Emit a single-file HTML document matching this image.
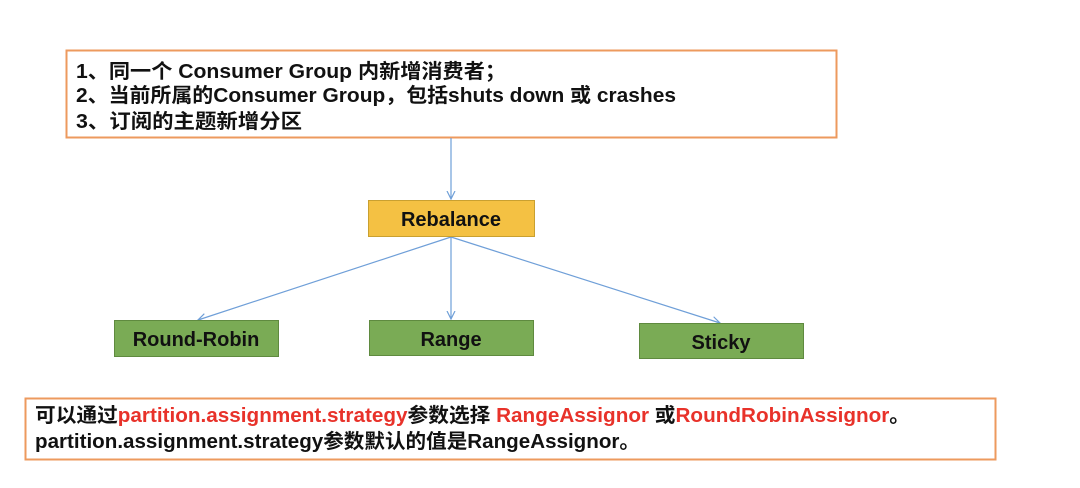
<!DOCTYPE html>
<html><head><meta charset="utf-8"><style>
html,body{margin:0;padding:0;background:#fff;}
svg{display:block;}
text{font-family:"Liberation Sans","Noto Sans CJK SC",sans-serif;font-weight:bold;}
</style></head><body>
<svg width="1080" height="488" viewBox="0 0 1080 488" xmlns="http://www.w3.org/2000/svg">
<defs>
<marker id="a" markerWidth="10" markerHeight="10" refX="8" refY="5" orient="auto" markerUnits="userSpaceOnUse">
<path d="M0,1 L8,5 L0,9" fill="none" stroke="#6f9fd8" stroke-width="1.2"/>
</marker>
</defs>
<rect x="66.5" y="50.5" width="770" height="87" fill="#fff" stroke="#ed9a5e" stroke-width="2"/>
<text x="76" y="78" font-size="20" fill="#111" textLength="430" lengthAdjust="spacingAndGlyphs">1、同一个 Consumer Group 内新增消费者；</text>
<text x="76" y="102" font-size="20" fill="#111" textLength="600" lengthAdjust="spacingAndGlyphs">2、当前所属的Consumer Group，包括shuts down 或 crashes</text>
<text x="76" y="128" font-size="20" fill="#111" textLength="226" lengthAdjust="spacingAndGlyphs">3、订阅的主题新增分区</text>

<line x1="451" y1="138" x2="451" y2="199" stroke="#6f9fd8" stroke-width="1.2" marker-end="url(#a)"/>
<line x1="451" y1="237" x2="198" y2="320" stroke="#6f9fd8" stroke-width="1.2" marker-end="url(#a)"/>
<line x1="451" y1="237" x2="451" y2="319" stroke="#6f9fd8" stroke-width="1.2" marker-end="url(#a)"/>
<line x1="451" y1="237" x2="720" y2="323" stroke="#6f9fd8" stroke-width="1.2" marker-end="url(#a)"/>

<rect x="368.5" y="200.5" width="166" height="36" fill="#f4c143" stroke="#c9a030"/>
<text x="451" y="226" font-size="20" fill="#111" text-anchor="middle">Rebalance</text>

<rect x="114.5" y="320.5" width="164" height="36" fill="#7aab55" stroke="#5f8a3f"/>
<text x="196" y="346" font-size="20" fill="#111" text-anchor="middle">Round-Robin</text>
<rect x="369.5" y="320.5" width="164" height="35" fill="#7aab55" stroke="#5f8a3f"/>
<text x="451" y="346" font-size="20" fill="#111" text-anchor="middle">Range</text>
<rect x="639.5" y="323.5" width="164" height="35" fill="#7aab55" stroke="#5f8a3f"/>
<text x="721" y="349" font-size="20" fill="#111" text-anchor="middle">Sticky</text>

<rect x="25.5" y="398.5" width="970" height="61" fill="#fff" stroke="#ed9a5e" stroke-width="2"/>
<text x="35" y="422" font-size="20" fill="#111" textLength="875" lengthAdjust="spacingAndGlyphs">可以通过<tspan fill="#e8322a">partition.assignment.strategy</tspan>参数选择 <tspan fill="#e8322a">RangeAssignor</tspan> 或<tspan fill="#e8322a">RoundRobinAssignor</tspan>。</text>
<text x="35" y="448" font-size="20" fill="#111" textLength="605" lengthAdjust="spacingAndGlyphs">partition.assignment.strategy参数默认的值是RangeAssignor。</text>
</svg>
</body></html>
